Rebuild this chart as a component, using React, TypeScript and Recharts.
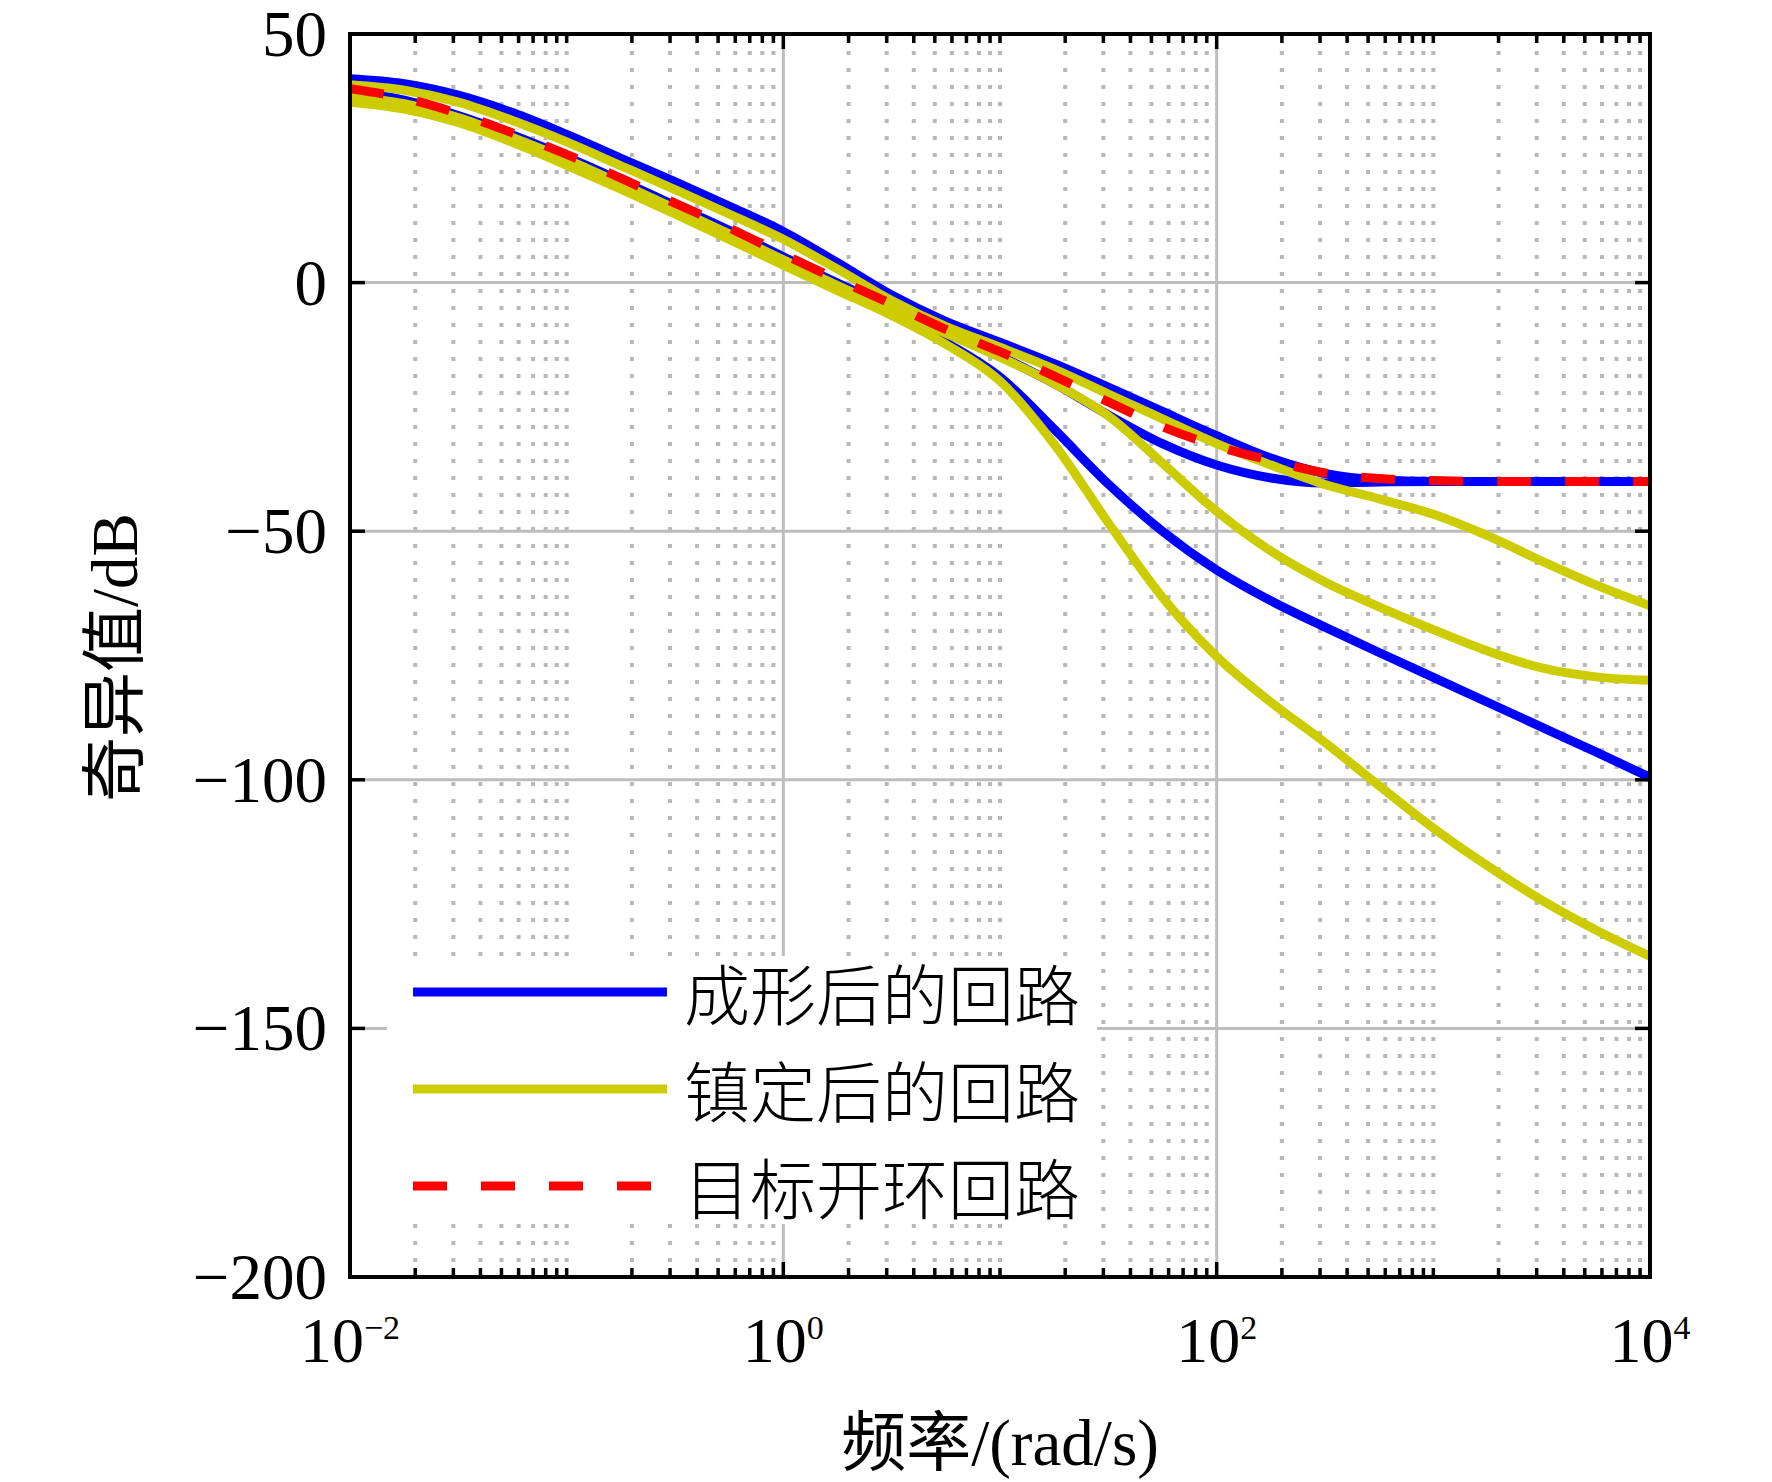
import React from 'react';
import { LineChart, Line, XAxis, YAxis, CartesianGrid, Legend } from 'recharts';

// Frequency samples (rad/s)
const FREQ = [0.01, 0.0178, 0.0316, 0.0562, 0.1, 0.178, 0.316, 0.562, 1, 1.78, 3.16, 5.62, 10, 17.8, 31.6, 56.2, 100, 178, 316, 562, 1000, 1778, 3162, 5623, 10000];

// Shaped loop singular values (dB)
const SHAPED_1 = [41.0, 40.0, 37.7, 34.2, 29.8, 25.0, 20.3, 15.4, 10.3, 4.0, -2.5, -7.8, -12.0, -16.3, -21.0, -25.9, -30.8, -35.3, -38.4, -39.7, -40, -40, -40, -40, -40];
const SHAPED_2 = [38.6, 36.7, 33.6, 29.7, 25.3, 20.5, 15.5, 10.5, 5.2, -0.1, -5.0, -10.0, -14.8, -20.3, -26.6, -32.4, -36.7, -39.3, -40.3, -40.1, -40, -40, -40, -40, -40];
const SHAPED_3 = [38.3, 36.4, 33.3, 29.4, 25.0, 20.2, 15.2, 10.2, 4.9, -0.7, -6.0, -12.0, -19.0, -29.5, -40.5, -50.0, -57.8, -64.0, -69.3, -74.4, -79.4, -84.4, -89.4, -94.4, -99.5];

// Stabilized loop singular values (dB)
const STAB_1 = [39.8, 38.7, 36.3, 32.6, 28.3, 23.5, 18.7, 13.8, 8.7, 2.7, -3.6, -8.8, -13.0, -17.4, -22.4, -27.4, -32.4, -36.7, -40.6, -43.5, -46.6, -50.9, -56.0, -60.8, -65.0];
const STAB_2 = [37.4, 36.0, 33.2, 29.2, 24.8, 19.9, 14.9, 9.8, 4.6, -0.6, -5.4, -10.2, -15.0, -20.3, -26.8, -36.3, -46.0, -54.0, -60.2, -65.2, -69.8, -74.1, -77.5, -79.3, -80.0];
const STAB_3 = [36.3, 34.9, 32.2, 28.2, 23.6, 18.8, 13.8, 8.7, 3.5, -1.6, -6.6, -12.4, -19.8, -32.5, -48.3, -63.3, -75.2, -84.4, -92.5, -101.2, -109.7, -117.3, -124.2, -130.2, -135.5];

// Target open loop (dB)
const TARGET = [39.0, 37.1, 34.0, 30.1, 25.8, 21.0, 16.0, 11.0, 5.7, 0.6, -4.3, -9.4, -13.9, -18.8, -24.0, -29.0, -32.9, -35.8, -38.3, -39.4, -39.8, -40, -40, -40, -40];

const NAME_SHAPED = '成形后的回路';
const NAME_STAB = '镇定后的回路';
const NAME_TARGET = '目标开环回路';

const X_LABEL_TICKS = [0.01, 1, 100, 10000];
const X_LABEL_EXP = ['\u22122', '0', '2', '4'];
const X_MINOR_TICKS = [0.02, 0.03, 0.04, 0.05, 0.06, 0.07, 0.08, 0.09, 0.1, 0.2, 0.3, 0.4, 0.5, 0.6, 0.7, 0.8, 0.9, 2, 3, 4, 5, 6, 7, 8, 9, 10, 20, 30, 40, 50, 60, 70, 80, 90, 200, 300, 400, 500, 600, 700, 800, 900, 1000, 2000, 3000, 4000, 5000, 6000, 7000, 8000, 9000];
const X_ALL_TICKS = [...X_LABEL_TICKS, ...X_MINOR_TICKS].sort((a, b) => a - b);
const Y_TICKS = [-200, -150, -100, -50, 0, 50];

const BLUE = '#0000ff';
const YELLOW = '#cccc00';
const RED = '#ff0000';
const DASH = '34 34';
const LINE_W = 9;

const SERIES = [
  { key: 'shaped1', values: SHAPED_1, name: NAME_SHAPED, color: BLUE, dash: undefined as string | undefined, legend: true },
  { key: 'shaped2', values: SHAPED_2, name: NAME_SHAPED + ' 2', color: BLUE, dash: undefined, legend: false },
  { key: 'shaped3', values: SHAPED_3, name: NAME_SHAPED + ' 3', color: BLUE, dash: undefined, legend: false },
  { key: 'stab1', values: STAB_1, name: NAME_STAB, color: YELLOW, dash: undefined, legend: true },
  { key: 'stab2', values: STAB_2, name: NAME_STAB + ' 2', color: YELLOW, dash: undefined, legend: false },
  { key: 'stab3', values: STAB_3, name: NAME_STAB + ' 3', color: YELLOW, dash: undefined, legend: false },
  { key: 'target', values: TARGET, name: NAME_TARGET, color: RED, dash: DASH, legend: true },
];
const LEGEND_SERIES = SERIES.filter((s) => s.legend);

const data = FREQ.map((f, i) => {
  const row: Record<string, number> = { f };
  SERIES.forEach((s) => {
    row[s.key] = s.values[i];
  });
  return row;
});

const SERIF = "'Liberation Serif', 'Times New Roman', 'Noto Sans CJK SC', serif";
const CJK = "'Noto Sans CJK SC', sans-serif";

const scaleOf = (axis: any) => {
  if (!axis || !axis.scale) return null;
  const sc = axis.scale;
  if (typeof sc === 'function') return (v: number) => sc(v) as number;
  if (typeof sc.map === 'function') return (v: number) => sc.map(v) as number;
  return null;
};

const minorGridX = (props: any) => {
  const f = scaleOf(props && props.xAxis);
  return f ? X_MINOR_TICKS.map((v) => f(v)) : [];
};
const majorGridX = (props: any) => {
  const f = scaleOf(props && props.xAxis);
  return f ? X_LABEL_TICKS.map((v) => f(v)) : [];
};

const BottomTick = (props: any) => {
  const { x, y, payload } = props;
  const idx = X_LABEL_TICKS.indexOf(payload.value);
  const len = idx >= 0 ? 15 : 9;
  return (
    <g>
      <line x1={x} x2={x} y1={y} y2={y - len} stroke="#000" strokeWidth={3.5} />
      {idx >= 0 && (
        <text x={x} y={y + 85} textAnchor="middle" fontFamily={SERIF} fontSize={64} fill="#000">
          10
          <tspan dy={-23} fontSize={34}>
            {X_LABEL_EXP[idx]}
          </tspan>
        </text>
      )}
    </g>
  );
};

const TopTick = (props: any) => {
  const { x, y, payload } = props;
  const len = X_LABEL_TICKS.indexOf(payload.value) >= 0 ? 15 : 9;
  return <line x1={x} x2={x} y1={y} y2={y + len} stroke="#000" strokeWidth={3.5} />;
};

const LeftTick = (props: any) => {
  const { x, y, payload } = props;
  const v = payload.value as number;
  const label = v < 0 ? '\u2212' + String(Math.abs(v)) : String(v);
  return (
    <g>
      <line x1={x} x2={x + 15} y1={y} y2={y} stroke="#000" strokeWidth={3.5} />
      <text x={x - 23} y={y + 22} textAnchor="end" fontFamily={SERIF} fontSize={65} fill="#000">
        {label}
      </text>
    </g>
  );
};

const RightTick = (props: any) => {
  const { x, y } = props;
  return <line x1={x} x2={x - 15} y1={y} y2={y} stroke="#000" strokeWidth={3.5} />;
};

const YTitle = (props: any) => {
  const vb = props.viewBox || { x: 0, y: 34, width: 350, height: 1243 };
  const cx = vb.x + 137;
  const cy = vb.y + vb.height / 2 + 2;
  return (
    <text
      x={cx}
      y={cy}
      textAnchor="middle"
      transform={`rotate(-90, ${cx}, ${cy})`}
      fontFamily={SERIF}
      fontSize={65}
      fill="#000"
    >
      奇异值/dB
    </text>
  );
};

const LegendBox = (props: any) => {
  const all = (props.payload || []) as any[];
  const items = LEGEND_SERIES.map((s) => {
    const entry = all.find((it) => it.value === s.name);
    return { s, color: entry && entry.color ? entry.color : s.color };
  });
  return (
    <svg width={710} height={268} style={{ display: 'block', overflow: 'visible' }}>
      <rect x={0} y={0} width={710} height={268} fill="#fff" />
      {items.map(({ s, color }, i) => {
        const cy = 36 + i * 97;
        return (
          <g key={s.key}>
            <line
              x1={26}
              x2={s.dash ? 264 : 280}
              y1={cy}
              y2={cy}
              stroke={color}
              strokeWidth={LINE_W}
              strokeDasharray={s.dash}
            />
            <text x={297} y={cy + 28} fontFamily={CJK} fontSize={66} fontWeight={300} fill="#000">
              {s.name}
            </text>
          </g>
        );
      })}
    </svg>
  );
};

const axisLineStyle = { stroke: '#000', strokeWidth: 4, strokeLinecap: 'square' as const };

export default function App() {
  return (
    <div style={{ position: 'absolute', left: 0, top: 0, width: 1772, height: 1482, background: '#fff' }}>
      <LineChart width={1772} height={1482} data={data} margin={{ top: 33, right: 121, bottom: 5, left: 0 }}>
        <XAxis
          xAxisId="bottom"
          dataKey="f"
          type="number"
          scale="log"
          domain={[0.01, 10000]}
          allowDataOverflow
          ticks={X_ALL_TICKS}
          interval={0}
          height={200}
          tickSize={0}
          tickMargin={0}
          tickLine={false}
          axisLine={axisLineStyle}
          tick={<BottomTick />}
          label={{
            value: '频率/(rad/s)',
            position: 'insideBottom',
            offset: 12,
            style: { fontFamily: SERIF, fontSize: 65, fill: '#000' },
          }}
        />
        <XAxis
          xAxisId="top"
          orientation="top"
          dataKey="f"
          type="number"
          scale="log"
          domain={[0.01, 10000]}
          allowDataOverflow
          ticks={X_ALL_TICKS}
          interval={0}
          height={1}
          tickSize={0}
          tickMargin={0}
          tickLine={false}
          axisLine={axisLineStyle}
          tick={<TopTick />}
        />
        <YAxis
          yAxisId="left"
          type="number"
          domain={[-200, 50]}
          allowDataOverflow
          ticks={Y_TICKS}
          interval={0}
          width={350}
          tickSize={0}
          tickMargin={0}
          tickLine={false}
          axisLine={axisLineStyle}
          tick={<LeftTick />}
          label={<YTitle />}
        />
        <YAxis
          yAxisId="right"
          orientation="right"
          type="number"
          domain={[-200, 50]}
          allowDataOverflow
          ticks={Y_TICKS}
          interval={0}
          width={1}
          tickSize={0}
          tickMargin={0}
          tickLine={false}
          axisLine={axisLineStyle}
          tick={<RightTick />}
        />
        <CartesianGrid
          xAxisId="bottom"
          yAxisId="left"
          horizontal={false}
          verticalCoordinatesGenerator={minorGridX}
          stroke="#b8b8b8"
          strokeWidth={4}
          strokeDasharray="4 13"
        />
        <CartesianGrid
          xAxisId="bottom"
          yAxisId="left"
          verticalCoordinatesGenerator={majorGridX}
          stroke="#bdbdbd"
          strokeWidth={3}
        />
        {SERIES.map((s) => (
          <Line
            key={s.key}
            xAxisId="bottom"
            yAxisId="left"
            dataKey={s.key}
            name={s.name}
            type="monotone"
            stroke={s.color}
            strokeWidth={LINE_W}
            strokeDasharray={s.dash}
            strokeLinejoin="round"
            dot={false}
            activeDot={false}
            legendType={s.legend ? 'line' : 'none'}
            isAnimationActive={false}
          />
        ))}
        <Legend
          layout="horizontal"
          verticalAlign="middle"
          align="center"
          width={710}
          height={268}
          wrapperStyle={{ left: 387, top: 956, width: 710, height: 268, margin: 0, padding: 0, lineHeight: 0 }}
          content={<LegendBox />}
        />
      </LineChart>
    </div>
  );
}
